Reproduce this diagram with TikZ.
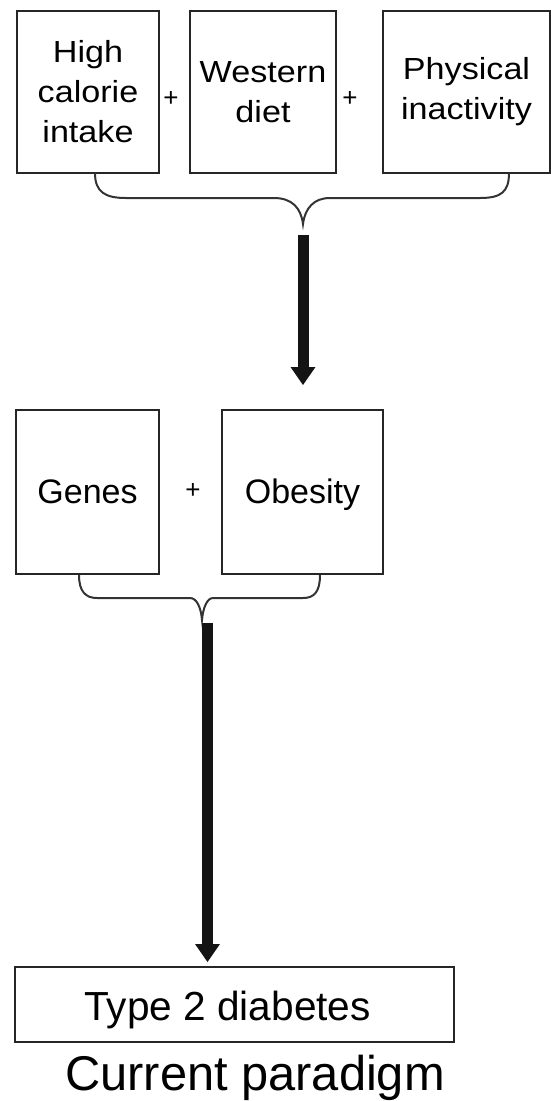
\documentclass[tikz,border=0pt]{standalone}
\usepackage{fontspec}
\setmainfont{Liberation Sans}
\newfontfamily\widefont[FakeStretch=1.12]{Liberation Sans}
\usetikzlibrary{arrows.meta}
\begin{document}
\begin{tikzpicture}[x=1pt,y=-1pt,
  box/.style={draw=black!85, line width=2pt, inner sep=0pt, align=center},
  toptext/.style={font=\widefont\fontsize{30.5}{40}\selectfont},
  midtext/.style={font=\fontsize{34}{40}\selectfont, text height=29pt, text depth=7pt},
  bracepath/.style={draw=black!80, line width=2pt},
  bigarrow/.style={draw=black!92, line width=11pt,
    -{Triangle[width=25pt 0 0, length=18pt 0 0, line width=0pt]}},
  plus/.style={font=\fontsize{26}{30}\selectfont, inner sep=0pt}
]
\useasboundingbox (0,0) rectangle (551,1101);
% top row
\node[box, toptext, minimum width=142pt, minimum height=162pt] (hci) at (88,92) {High\\calorie\\intake};
\node[box, toptext, minimum width=146pt, minimum height=162pt] (wd) at (263,92) {Western\\diet};
\node[box, toptext, minimum width=167pt, minimum height=162pt] (pi) at (466.5,92) {Physical\\inactivity};
\node[plus] (p1) at (171,99) {+};
\node[plus] (p2) at (350,99) {+};
% top brace
\coordinate (b1l) at (95,173);
\coordinate (b1r) at (509,173);
\coordinate (b1t) at (303,224);
\path[bracepath] (b1l) .. controls (95,192) and (105,198) .. (126,198) -- (274,198)
  .. controls (292,198) and (301,208) .. (b1t)
  .. controls (305,208) and (314,198) .. (330,198) -- (480,198)
  .. controls (501,198) and (509,192) .. (b1r);
\coordinate (a1s) at (303,235);
\coordinate (a1e) at (303,385);
\draw[bigarrow] (a1s) -- (a1e);
% middle row
\node[box, midtext, minimum width=143pt, minimum height=164pt] (genes) at (87.5,492) {Genes};
\node[box, midtext, minimum width=161pt, minimum height=164pt] (obes) at (302.5,492) {Obesity};
\node[plus] (p3) at (193,491) {+};
% middle brace
\coordinate (b2l) at (79,575);
\coordinate (b2r) at (320,575);
\coordinate (b2t) at (202,620);
\path[bracepath] (b2l) .. controls (79,592) and (86,598) .. (97,598) -- (190,598)
  .. controls (197,598) and (201,608) .. (b2t)
  .. controls (203,608) and (207,598) .. (213,598) -- (303,598)
  .. controls (314,598) and (320,592) .. (b2r);
\coordinate (a2s) at (207.5,623);
\coordinate (a2e) at (207.5,962);
\draw[bigarrow] (a2s) -- (a2e);
% bottom
\node[box, font=\fontsize{40.6}{46}\selectfont, text height=38pt, text depth=7pt, minimum width=439pt, minimum height=75pt] (t2d) at (234.5,1004.5) {Type 2 diabetes\hspace*{14pt}};
\node[font=\fontsize{48.8}{56}\selectfont, anchor=base, inner sep=0pt] (cap) at (255,1090) {Current paradigm};
\end{tikzpicture}
\end{document}
